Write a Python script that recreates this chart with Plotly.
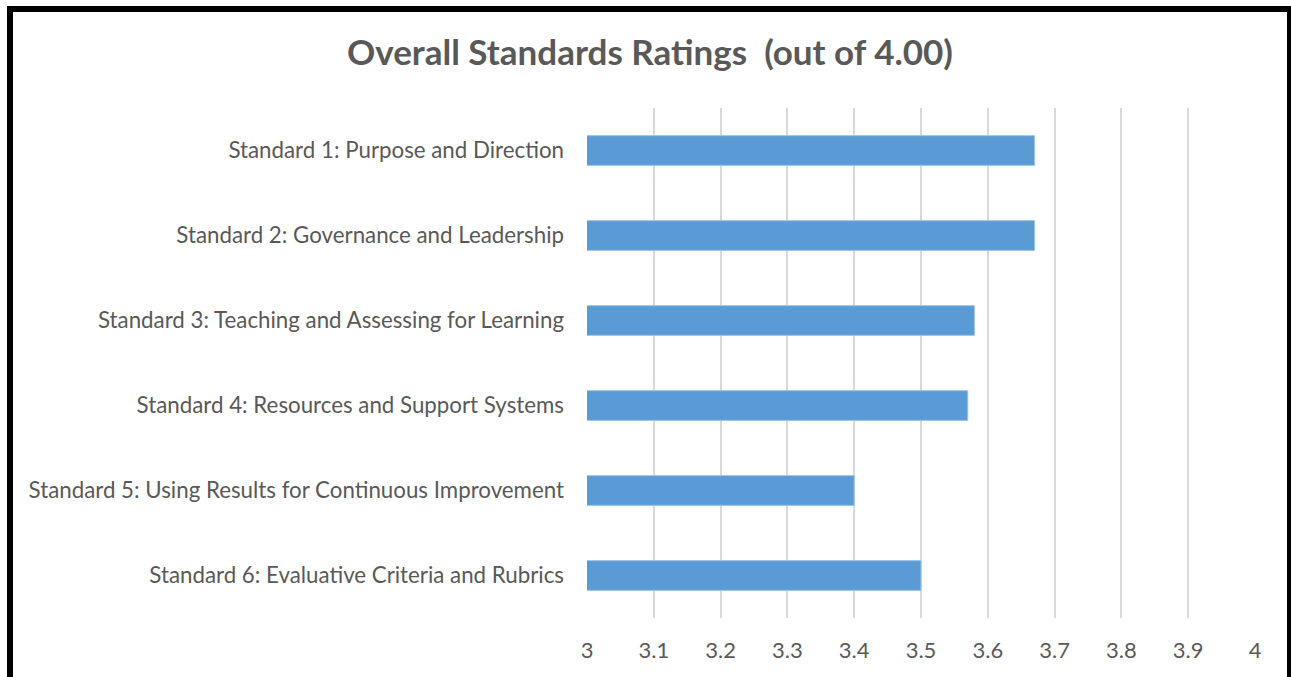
import plotly.graph_objects as go

categories = [
    "Standard 1: Purpose and Direction",
    "Standard 2: Governance and Leadership",
    "Standard 3: Teaching and Assessing for Learning",
    "Standard 4: Resources and Support Systems",
    "Standard 5: Using Results for Continuous Improvement",
    "Standard 6: Evaluative Criteria and Rubrics",
]
ratings = [3.67, 3.67, 3.58, 3.57, 3.40, 3.50]
tick_vals = [3, 3.1, 3.2, 3.3, 3.4, 3.5, 3.6, 3.7, 3.8, 3.9, 4]
tick_text = ["3", "3.1", "3.2", "3.3", "3.4", "3.5", "3.6", "3.7", "3.8", "3.9", "4"]

W, H = 1291, 677
L, R, T, B = 587, 1255, 108, 618

fig = go.Figure(go.Bar(
    x=ratings, y=categories, orientation="h",
    marker=dict(color="#5b9bd5", line=dict(color="#9dc3e6", width=1)),
))

def px(x):
    return (x - L) / (R - L)

def py(y):
    return (B - y) / (B - T)

for x0, y0, x1, y1 in [(10, 6, 10, 700), (7, 9, 1291, 9), (1290, 6, 1290, 700)]:
    fig.add_shape(type="line", xref="paper", yref="paper",
                  x0=px(x0), x1=px(x1), y0=py(y0), y1=py(y1),
                  line=dict(color="black", width=6), layer="above")

fig.update_layout(
    width=W, height=H,
    margin=dict(l=L, r=W - R, t=T, b=H - B, pad=0),
    paper_bgcolor="white", plot_bgcolor="white",
    bargap=0.65,
    showlegend=False,
    font=dict(family="Lato, Carlito, sans-serif", color="#595959", size=22),
    title=dict(text="<b>Overall Standards Ratings  (out of 4.00)</b>",
               x=650 / W, xanchor="center", y=1 - 53 / H, yanchor="middle",
               font=dict(size=35, color="#595959", family="Lato, sans-serif")),
    xaxis=dict(range=[3, 4], tickvals=tick_vals, ticktext=tick_text,
               showgrid=True, gridcolor="#d9d9d9", gridwidth=1.5,
               zeroline=False, showline=False, ticks="", ticklabelstandoff=17,
               tickfont=dict(size=22, color="#595959")),
    yaxis=dict(autorange="reversed", showgrid=False, zeroline=False, showline=False,
               ticks="", ticklabelstandoff=22, tickfont=dict(size=22.3, color="#595959")),
)

fig.write_html(
    "out.html",
    config={"displayModeBar": False},
    post_script="document.body.style.margin='0';document.body.style.overflow='hidden';",
)
